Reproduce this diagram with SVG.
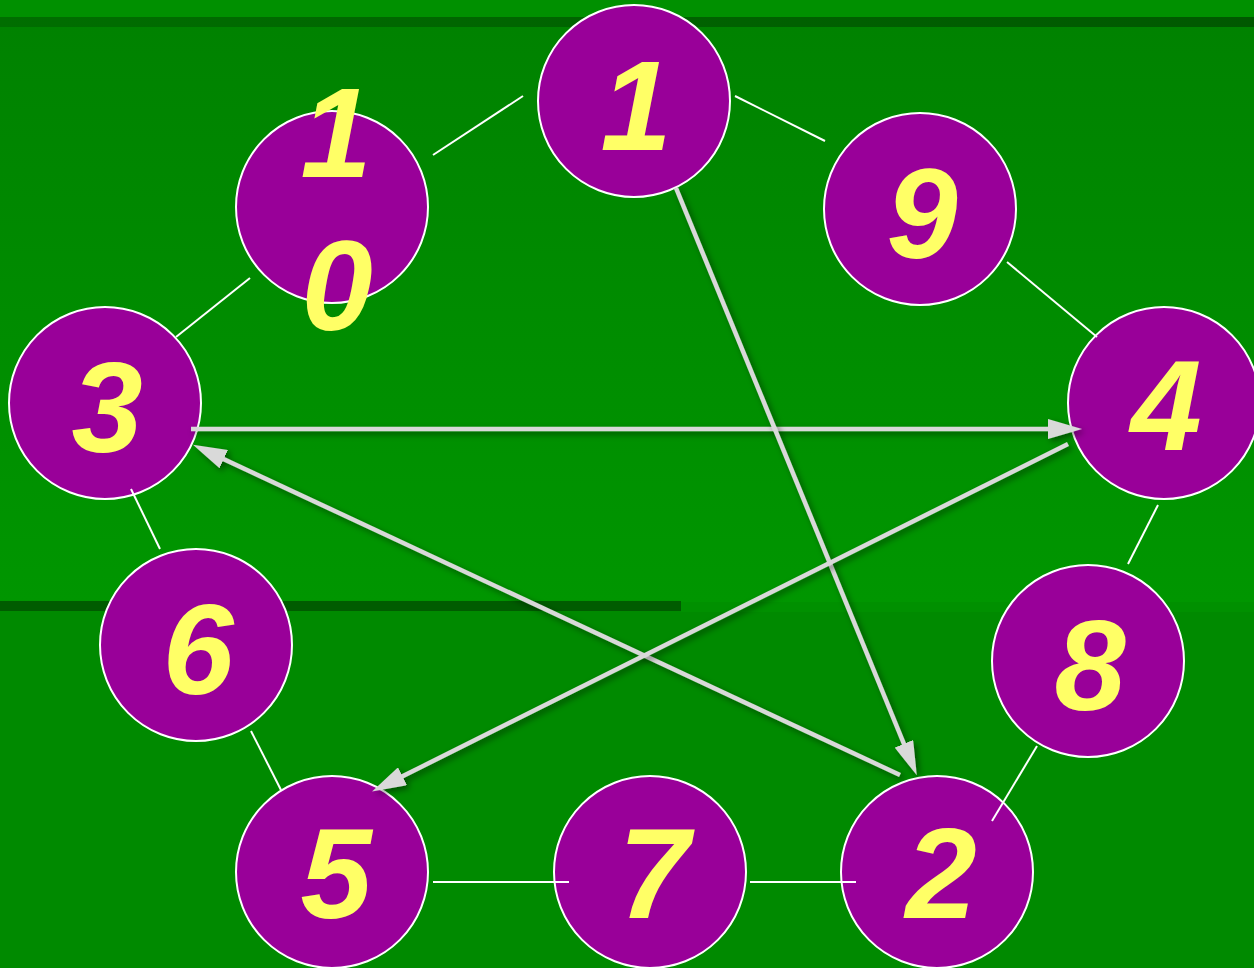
<svg xmlns="http://www.w3.org/2000/svg" width="1254" height="968" viewBox="0 0 1254 968">
<style>
.node circle{fill:#990099;stroke:#ffffff;stroke-width:2}
.node text{font-family:"Liberation Sans",Arial,sans-serif;font-weight:bold;font-style:italic;font-size:128px;fill:#ffff66;text-anchor:middle}
.edge{stroke:#ffffff;stroke-width:2;fill:none}
.arrow{stroke:#d9d9d9;stroke-width:4.5;fill:none;marker-end:url(#ah);filter:url(#sh)}
</style>
<defs>
<linearGradient id="bg" x1="0" y1="0" x2="0" y2="1">
<stop offset="0" stop-color="#008200"/>
<stop offset="1" stop-color="#009600"/>
</linearGradient>
<linearGradient id="band" x1="0" y1="0" x2="1" y2="0">
<stop offset="0" stop-color="#006e00"/>
<stop offset="1" stop-color="#005800"/>
</linearGradient>
<marker id="ah" viewBox="0 0 34 20" refX="24" refY="10" markerWidth="34" markerHeight="20" markerUnits="userSpaceOnUse" orient="auto">
<path d="M0,0 L34,10 L0,20 Z" fill="#d9d9d9"/>
</marker>
<filter id="sh" filterUnits="userSpaceOnUse" x="0" y="0" width="1254" height="968">
<feDropShadow dx="3" dy="3" stdDeviation="3" flood-color="#000000" flood-opacity="0.45"/>
</filter>
</defs>
<g id="background">
<rect x="0" y="0" width="1254" height="968" fill="#008a00"/>
<rect x="0" y="0" width="1254" height="18" fill="#009000"/>
<rect x="0" y="26" width="1254" height="576" fill="url(#bg)"/>
<rect x="0" y="17" width="1254" height="10" fill="url(#band)"/>
<rect x="681" y="602" width="573" height="10" fill="#009000"/>
<rect x="0" y="601" width="681" height="10" fill="#005c00"/>
</g>
<g id="node-1" class="node"><circle cx="634" cy="101" r="96"/><text x="636" y="150">1</text></g>
<g id="node-9" class="node"><circle cx="920" cy="209" r="96"/><text x="922" y="258">9</text></g>
<g id="node-10" class="node"><circle cx="332" cy="207" r="96"/><text x="336" y="177">1</text><text x="337" y="330">0</text></g>
<g id="node-3" class="node"><circle cx="105" cy="403" r="96"/><text x="107" y="452">3</text></g>
<g id="node-4" class="node"><circle cx="1164" cy="403" r="96"/><text x="1166" y="450">4</text></g>
<g id="node-6" class="node"><circle cx="196" cy="645" r="96"/><text x="198" y="694">6</text></g>
<g id="node-8" class="node"><circle cx="1088" cy="661" r="96"/><text x="1090" y="710">8</text></g>
<g id="node-5" class="node"><circle cx="332" cy="872" r="96"/><text x="336" y="918">5</text></g>
<g id="node-7" class="node"><circle cx="650" cy="872" r="96"/><text x="654" y="918">7</text></g>
<g id="node-2" class="node"><circle cx="937" cy="872" r="96"/><text x="941" y="918">2</text></g>
<g id="connectors">
<line class="edge" x1="433" y1="155" x2="523" y2="96"/>
<line class="edge" x1="735" y1="96" x2="825" y2="141"/>
<line class="edge" x1="1007" y1="262" x2="1097" y2="337"/>
<line class="edge" x1="250" y1="278" x2="176" y2="337"/>
<line class="edge" x1="1158" y1="505" x2="1128" y2="564"/>
<line class="edge" x1="131" y1="489" x2="160" y2="549"/>
<line class="edge" x1="251" y1="731" x2="281" y2="790"/>
<line class="edge" x1="1037" y1="746" x2="992" y2="821"/>
<line class="edge" x1="433" y1="882" x2="569" y2="882"/>
<line class="edge" x1="750" y1="882" x2="856" y2="882"/>
<line class="arrow" x1="191" y1="429" x2="1072" y2="429"/>
<line class="arrow" x1="900" y1="775" x2="202" y2="449"/>
<line class="arrow" x1="676" y1="188" x2="913" y2="766"/>
<line class="arrow" x1="1068" y1="444" x2="381" y2="787"/>
</g>
</svg>
